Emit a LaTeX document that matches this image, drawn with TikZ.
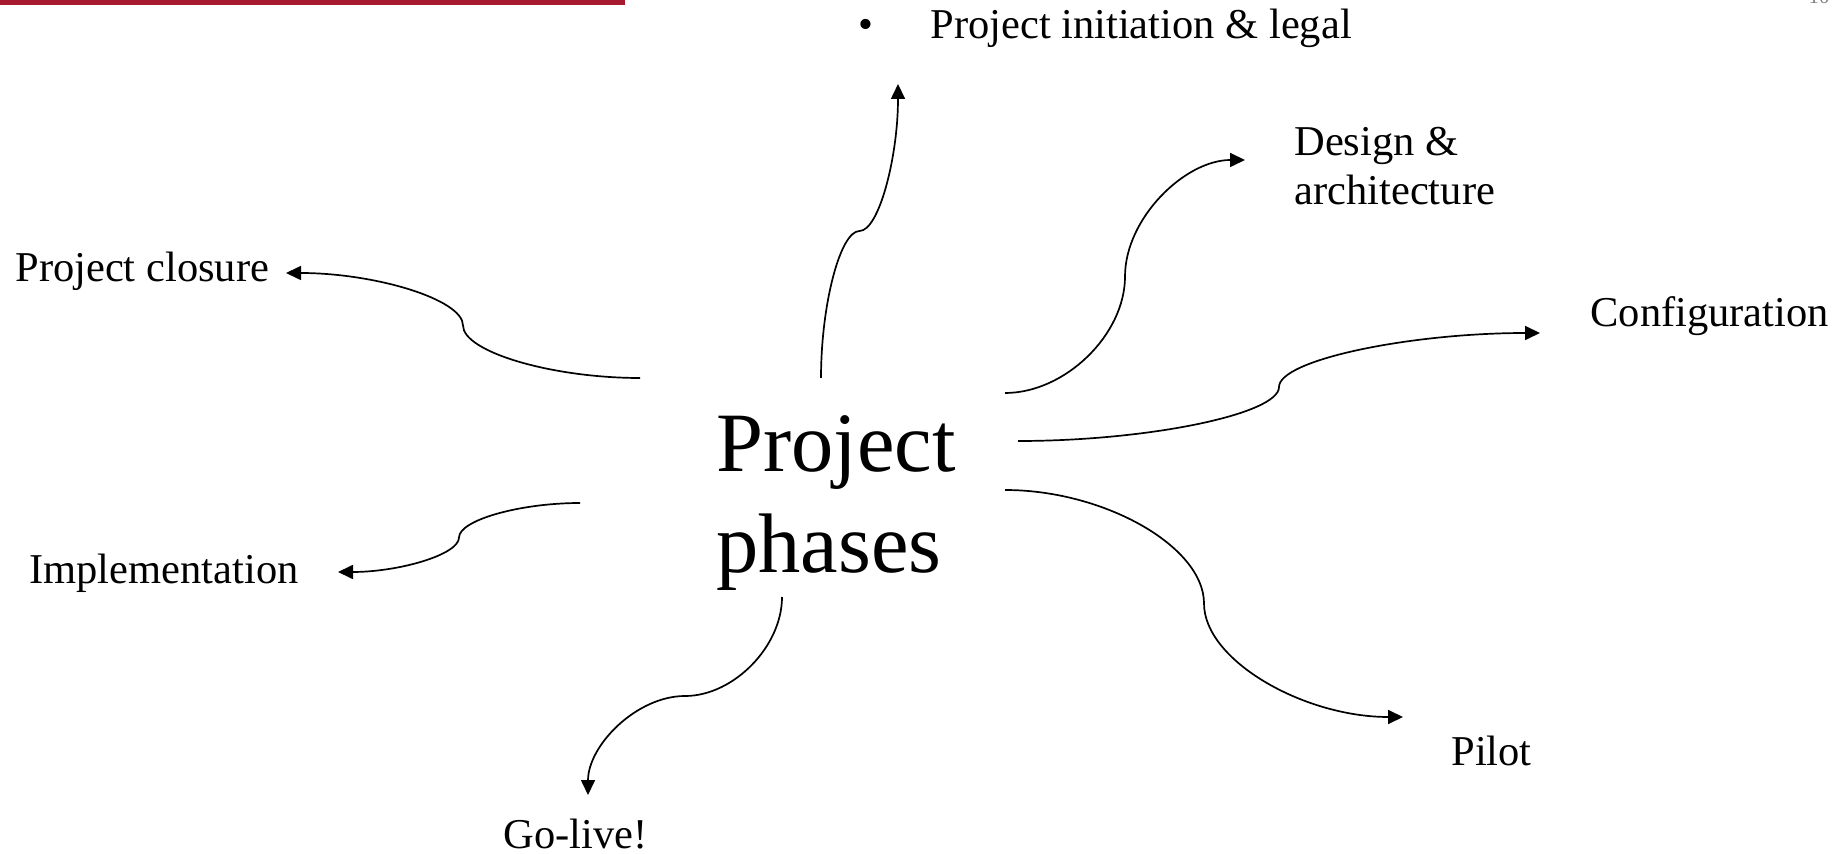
\documentclass[tikz,border=0pt]{standalone}
\usepackage{fontspec}
\setmainfont{Liberation Serif}
\usetikzlibrary{arrows.meta,calc}
\definecolor{barred}{RGB}{166,25,46}
\definecolor{pagegray}{RGB}{128,128,128}
\tikzset{
  lbl/.style={inner sep=0pt, anchor=base west, font=\fontsize{21.25pt}{24.5pt}\selectfont},
  big/.style={inner sep=0pt, anchor=base west, align=left, font=\fontsize{42.25pt}{50.5pt}\selectfont},
  conn/.style={draw, line width=0.85pt, -{Triangle[length=7.5pt,width=7pt]}},
  hcurve/.style={to path={let \p1=(\tikztostart), \p2=(\tikztotarget) in
    .. controls ({\x1+(\x2-\x1)/4},\y1) and ({(\x1+\x2)/2},{\y1+(\y2-\y1)/4}) .. ({(\x1+\x2)/2},{(\y1+\y2)/2})
    .. controls ({(\x1+\x2)/2},{\y1+3*(\y2-\y1)/4}) and ({\x1+3*(\x2-\x1)/4},\y2) .. (\tikztotarget)}},
  vcurve/.style={to path={let \p1=(\tikztostart), \p2=(\tikztotarget) in
    .. controls (\x1,{\y1+(\y2-\y1)/4}) and ({\x1+(\x2-\x1)/4},{(\y1+\y2)/2}) .. ({(\x1+\x2)/2},{(\y1+\y2)/2})
    .. controls ({\x1+3*(\x2-\x1)/4},{(\y1+\y2)/2}) and (\x2,{\y1+3*(\y2-\y1)/4}) .. (\tikztotarget)}}
}
\begin{document}
\begin{tikzpicture}[x=0.5pt,y=-0.5pt]
\useasboundingbox (0,0) rectangle (1839,854);
\clip (0,0) rectangle (1839,854);
% header bar and page number
\fill[barred] (0,0) rectangle (625,5);
\node[inner sep=0pt, anchor=base east, text=pagegray, font=\fontsize{10.5pt}{12pt}\selectfont] (pagenum) at (1830,4) {10};
% central text (anchor on the baseline of the last line)
\node[big] (center) at (716,573) {Project\\phases};
% labels
\node[lbl] (bullet) at (858.5,39) {•};
\node[lbl] (init) at (930,39) {Project initiation \& legal};
\node[lbl, align=left] (design) at (1294,205) {Design \&\\architecture};
\node[lbl] (config) at (1590,327) {Configuration};
\node[lbl] (pilot) at (1451,765) {Pilot};
\node[lbl] (golive) at (503,848) {Go-live!};
\node[lbl] (impl) at (29,583) {Implementation};
\node[lbl] (closure) at (15,282) {Project closure};
% connector end points
\coordinate (sInit) at (821,378);   \coordinate (eInit) at (898,84);
\coordinate (sDesign) at (1005,393); \coordinate (eDesign) at (1245,160);
\coordinate (sConfig) at (1018,441); \coordinate (eConfig) at (1540,333);
\coordinate (sPilot) at (1005,490);  \coordinate (ePilot) at (1403,717);
\coordinate (sGo) at (782,597);      \coordinate (eGo) at (588,795);
\coordinate (sImpl) at (580,503);    \coordinate (eImpl) at (338,572);
\coordinate (sClose) at (640,378);   \coordinate (eClose) at (286,273);
% connectors
\draw[conn] (sInit) to[vcurve] (eInit);
\draw[conn] (sDesign) to[hcurve] (eDesign);
\draw[conn] (sConfig) to[hcurve] (eConfig);
\draw[conn] (sPilot) to[hcurve] (ePilot);
\draw[conn] (sGo) to[vcurve] (eGo);
\draw[conn] (sImpl) to[hcurve] (eImpl);
\draw[conn] (sClose) to[hcurve] (eClose);
\end{tikzpicture}
\end{document}
